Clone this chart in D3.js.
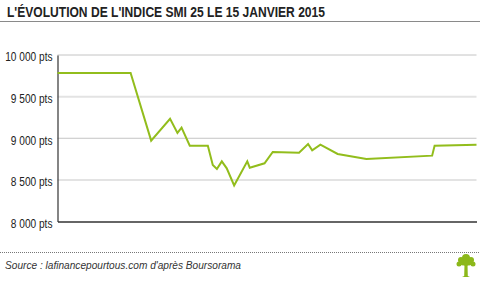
<!DOCTYPE html>
<html>
<head>
<meta charset="utf-8">
<script src="https://cdn.jsdelivr.net/npm/d3@7"></script>
<style>
	body { margin: 0; background: #fff; }
	svg { display: block; }
	text { font-family: "Liberation Sans", Arial, sans-serif; }
</style>
</head>
<body>
<div id="graph"></div>
<script>
// SMI intraday, 15 janvier 2015
var times = ["09:00", "10:29", "10:54", "11:17", "11:26", "11:31", "11:41", "12:03", "12:09", "12:14",
	"12:20", "12:26", "12:35", "12:51", "12:54", "13:12", "13:22", "13:54", "14:05", "14:10",
	"14:20", "14:41", "15:16", "16:36", "16:39", "17:30"];
var values = [9783, 9783, 8971, 9233, 9064, 9128, 8911, 8911, 8678, 8630,
	8722, 8639, 8434, 8722, 8646, 8699, 8835, 8827, 8931, 8855,
	8923, 8811, 8751, 8791, 8911, 8923];
var yTicks = [8000, 8500, 9000, 9500, 10000];
var title = "L'ÉVOLUTION DE L'INDICE SMI 25 LE 15 JANVIER 2015";
var source = "Source : lafinancepourtous.com d'après Boursorama";

(function() {
	var width = 480, height = 282;
	var m = { left: 57.5, right: 476.5, top: 55, bottom: 221.5 };
	var squeeze = 0.78; // the original uses a condensed face

	var parse = d3.timeParse("%H:%M");
	var data = times.map(function(t, i) { return { t: parse(t), v: values[i] }; });

	var svg = d3.select("#graph").append("svg")
		.attr("width", width)
		.attr("height", height);

	var x = d3.scaleTime()
		.domain([parse("09:00"), parse("17:30")])
		.range([m.left, m.right]);

	var y = d3.scaleLinear()
		.domain([8000, 10000])
		.range([m.bottom, m.top]);

	// title + rule
	svg.append("text")
		.attr("x", 7)
		.attr("y", 17)
		.attr("font-size", 14)
		.attr("font-weight", "bold")
		.attr("fill", "#222")
		.attr("textLength", 318)
		.attr("lengthAdjust", "spacingAndGlyphs")
		.text(title);

	svg.append("line")
		.attr("x1", 0).attr("x2", width)
		.attr("y1", 21.5).attr("y2", 21.5)
		.attr("stroke", "#8a8a8a")
		.attr("stroke-width", 1);

	// grid lines, alternating style
	svg.append("g").selectAll("line")
		.data(yTicks.filter(function(d) { return d > 8000; }))
		.enter().append("line")
		.attr("x1", m.left).attr("x2", m.right)
		.attr("y1", function(d) { return y(d); })
		.attr("y2", function(d) { return y(d); })
		.attr("stroke", function(d) { return d % 1000 === 0 ? "#c4c4c4" : "#e3e3e3"; })
		.attr("stroke-width", function(d) { return d % 1000 === 0 ? 1 : 2; });

	// y axis
	var yAxis = d3.axisLeft(y)
		.tickValues(yTicks)
		.tickSize(0)
		.tickPadding(5)
		.tickFormat(function(d) { return d3.format(",")(d).replace(",", " ") + " pts"; });

	var gy = svg.append("g")
		.attr("transform", "translate(" + m.left + ",0)")
		.call(yAxis);
	gy.select(".domain").attr("stroke", "#333").attr("stroke-width", 1.2);
	gy.selectAll("text")
		.attr("font-size", 13)
		.attr("fill", "#222")
		.attr("dy", "0.45em")
		.attr("x", -5 / squeeze)
		.attr("transform", "scale(" + squeeze + ",1)");

	// x axis baseline
	var xAxis = d3.axisBottom(x).tickValues([]).tickSizeOuter(0);
	var gx = svg.append("g")
		.attr("transform", "translate(0," + m.bottom + ")")
		.call(xAxis);
	gx.select(".domain").attr("stroke", "#333").attr("stroke-width", 1.6);

	// the series
	var line = d3.line()
		.x(function(d) { return x(d.t); })
		.y(function(d) { return y(d.v); });

	svg.append("path")
		.datum(data)
		.attr("d", line)
		.attr("fill", "none")
		.attr("stroke", "#92bd1c")
		.attr("stroke-width", 2)
		.attr("stroke-linejoin", "miter");

	// footer
	svg.append("line")
		.attr("x1", 0).attr("x2", width)
		.attr("y1", 252.5).attr("y2", 252.5)
		.attr("stroke", "#777")
		.attr("stroke-width", 1)
		.attr("stroke-dasharray", "1,1");

	svg.append("text")
		.attr("x", 5)
		.attr("y", 269)
		.attr("font-size", 11)
		.attr("font-style", "italic")
		.attr("fill", "#333")
		.attr("textLength", 236)
		.attr("lengthAdjust", "spacingAndGlyphs")
		.text(source);

	// little tree logo
	var logo = svg.append("g")
		.attr("transform", "translate(466,266)")
		.attr("fill", "#8cb81a");
	[[0, -8, 4], [-5, -6, 3], [5, -6, 3], [-7, -2, 2.5], [7, -2, 2.5], [-3, -3, 2.5], [3, -3, 2.5], [0, -3, 3]]
		.forEach(function(c) {
			logo.append("circle").attr("cx", c[0]).attr("cy", c[1]).attr("r", c[2]);
		});
	logo.append("path").attr("d", "M-1.5,-2 L1.5,-2 L1.8,10 L4,11 L-4,11 L-1.8,10 Z");
})();
</script>
</body>
</html>
